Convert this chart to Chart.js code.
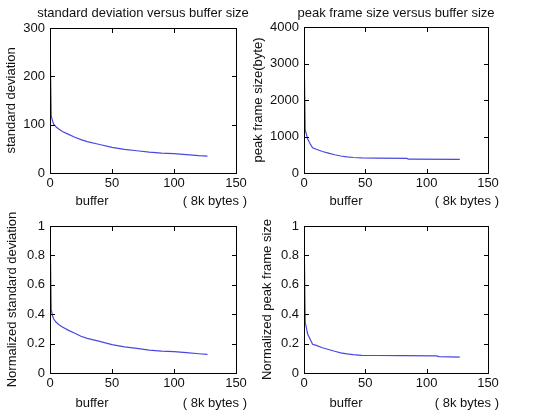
<!DOCTYPE html>
<html>
<head>
<meta charset="utf-8">
<script src="https://cdn.jsdelivr.net/npm/chart.js@4/dist/chart.umd.min.js"></script>
<style>
  body { margin: 0; background: #fff; }
  #wrap { position: relative; width: 535px; height: 415px; overflow: hidden; }
  canvas { position: absolute; }
  .box  { position: absolute; box-sizing: border-box; border: 1px solid #000; pointer-events: none; }
  .tick { position: absolute; background: #000; pointer-events: none; }
</style>
</head>
<body>
<div id="wrap">
  <canvas id="stdChart"      width="255" height="210" style="left:0;top:0"></canvas>
  <canvas id="peakChart"     width="285" height="210" style="left:250px;top:0"></canvas>
  <canvas id="normStdChart"  width="255" height="205" style="left:0;top:210px"></canvas>
  <canvas id="normPeakChart" width="285" height="205" style="left:250px;top:210px"></canvas>
</div>
<script>
// ── Data ──────────────────────────────────────────────────────
// buffer size in 8k-byte units
const stdBuffer  = [0, 1, 2, 3, 5, 7, 10, 15, 20, 25, 30, 40, 50, 60, 70, 80, 90, 100, 110, 120, 127];
const stdValues  = [275, 118, 108, 101, 95, 91, 86, 80, 74, 69, 65, 59, 53, 49, 46, 43, 41, 40, 38, 36, 35];
const normStdValues = [1, 0.43, 0.39, 0.367, 0.345, 0.33, 0.313, 0.29, 0.27, 0.25, 0.236, 0.215,
                       0.193, 0.178, 0.167, 0.156, 0.149, 0.145, 0.138, 0.131, 0.127];

const peakBuffer = [0, 1, 3, 5, 7, 10, 15, 20, 25, 30, 35, 40, 47, 60, 84, 85, 127];
const peakValues = [3460, 1180, 930, 800, 690, 650, 590, 545, 500, 465, 440, 425, 412, 405, 400, 378, 375];

const normPeakBuffer = [0, 1, 3, 5, 7, 10, 15, 20, 25, 30, 35, 40, 47, 60, 80, 108, 110, 127];
const normPeakValues = [1, 0.345, 0.265, 0.23, 0.195, 0.188, 0.172, 0.16, 0.148, 0.137, 0.13, 0.125,
                        0.12, 0.119, 0.118, 0.117, 0.112, 0.108];

// axis ranges / tick steps
const xMax = 150, xStep = 50;
const stdMax = 300, stdStep = 100;
const peakMax = 4000, peakStep = 1000;
const normMax = 1, normStep = 0.2;

const FONT = '"Liberation Sans", Arial, sans-serif';
const LINE_COLOR = 'rgb(72,72,225)';
const INK = '#111';

// ── Titles and axis captions drawn around the plot area ───────
const captions = {
  id: 'captions',
  afterDraw(chart, args, o) {
    const { ctx, chartArea: a } = chart;
    ctx.save();
    ctx.fillStyle = INK;
    ctx.font = '13px ' + FONT;
    ctx.textBaseline = 'middle';

    if (o.title) {
      ctx.textAlign = 'center';
      ctx.fillText(o.title, (a.left + a.right) / 2, 13);
    }

    // x axis: "buffer" near the left, units at the right
    ctx.textAlign = 'center';
    ctx.fillText('buffer', a.left + 42, a.bottom + o.xTitleDy);
    ctx.textAlign = 'right';
    ctx.fillText('( 8k bytes )', a.right + 11, a.bottom + o.xTitleDy);

    // rotated y axis title
    ctx.translate(o.yTitleX, (a.top + a.bottom) / 2);
    ctx.rotate(-Math.PI / 2);
    ctx.textAlign = 'center';
    ctx.fillText(o.yTitle, 0, 0);
    ctx.restore();
  }
};

// ── MATLAB-style frame: box + short inward ticks on all sides ─
// laid over the canvas, positioned from the chart's own scales
function addFrame(chart, canvas) {
  const wrap = document.getElementById('wrap');
  const offX = canvas.offsetLeft, offY = canvas.offsetTop;
  const a = chart.chartArea;
  const L = Math.round(a.left), R = Math.round(a.right);
  const T = Math.round(a.top),  B = Math.round(a.bottom);

  const add = (cls, x, y, w, h) => {
    const d = document.createElement('div');
    d.className = cls;
    d.style.left = (offX + x) + 'px';
    d.style.top = (offY + y) + 'px';
    d.style.width = w + 'px';
    d.style.height = h + 'px';
    wrap.appendChild(d);
  };

  add('box', L, T, R - L + 1, B - T + 1);

  const x = chart.scales.x, y = chart.scales.y;
  x.ticks.forEach(t => {
    const px = Math.round(x.getPixelForValue(t.value));
    add('tick', Math.min(px, R), B - 4, 1, 4);
    add('tick', Math.min(px, R), T + 1, 1, 4);
  });
  y.ticks.forEach(t => {
    const py = Math.round(y.getPixelForValue(t.value));
    add('tick', L + 1, Math.min(py, B), 4, 1);
    add('tick', R - 4, Math.min(py, B), 4, 1);
  });
}

// ── Build one subplot ─────────────────────────────────────────
function makePlot(id, xs, ys, cfg) {
  const canvas = document.getElementById(id);
  const tickFont = { family: FONT, size: 13 };
  const chart = new Chart(canvas, {
    type: 'line',
    data: {
      datasets: [{
        data: xs.map((v, i) => ({ x: v, y: ys[i] })),
        borderColor: LINE_COLOR,
        borderWidth: 1.2,
        pointRadius: 0,
        tension: 0
      }]
    },
    options: {
      responsive: false,
      animation: false,
      devicePixelRatio: 1,
      layout: { padding: { left: 0, right: cfg.padRight, top: cfg.padTop, bottom: 0 } },
      plugins: {
        legend: { display: false },
        tooltip: { enabled: false },
        captions: cfg.captions
      },
      scales: {
        x: {
          type: 'linear',
          min: 0, max: xMax,
          afterFit: s => { s.height = cfg.xHeight; },
          grid: { display: false, drawTicks: false },
          border: { display: false },
          ticks: {
            stepSize: xStep, font: tickFont, color: INK, padding: 3,
            maxRotation: 0, autoSkip: false, callback: v => String(v)
          }
        },
        y: {
          min: 0, max: cfg.yMax,
          afterFit: s => { s.width = cfg.yWidth; },
          grid: { display: false, drawTicks: false },
          border: { display: false },
          ticks: { stepSize: cfg.yStep, font: tickFont, color: INK, padding: 5, callback: v => String(v) }
        }
      }
    },
    plugins: [captions]
  });
  addFrame(chart, canvas);
}

makePlot('stdChart', stdBuffer, stdValues, {
  padRight: 19, padTop: 28, xHeight: 37, yWidth: 50, yMax: stdMax, yStep: stdStep,
  captions: { title: 'standard deviation versus buffer size', yTitle: 'standard deviation', yTitleX: 11, xTitleDy: 28 }
});

makePlot('peakChart', peakBuffer, peakValues, {
  padRight: 47, padTop: 27, xHeight: 37, yWidth: 54, yMax: peakMax, yStep: peakStep,
  captions: { title: 'peak frame size versus buffer size', yTitle: 'peak frame size(byte)', yTitleX: 8, xTitleDy: 28 }
});

makePlot('normStdChart', stdBuffer, normStdValues, {
  padRight: 19, padTop: 16, xHeight: 42, yWidth: 50, yMax: normMax, yStep: normStep,
  captions: { yTitle: 'Normalized standard deviation', yTitleX: 12, xTitleDy: 30 }
});

makePlot('normPeakChart', normPeakBuffer, normPeakValues, {
  padRight: 47, padTop: 16, xHeight: 42, yWidth: 54, yMax: normMax, yStep: normStep,
  captions: { yTitle: 'Normalized peak frame size', yTitleX: 17, xTitleDy: 30 }
});
</script>
</body>
</html>
